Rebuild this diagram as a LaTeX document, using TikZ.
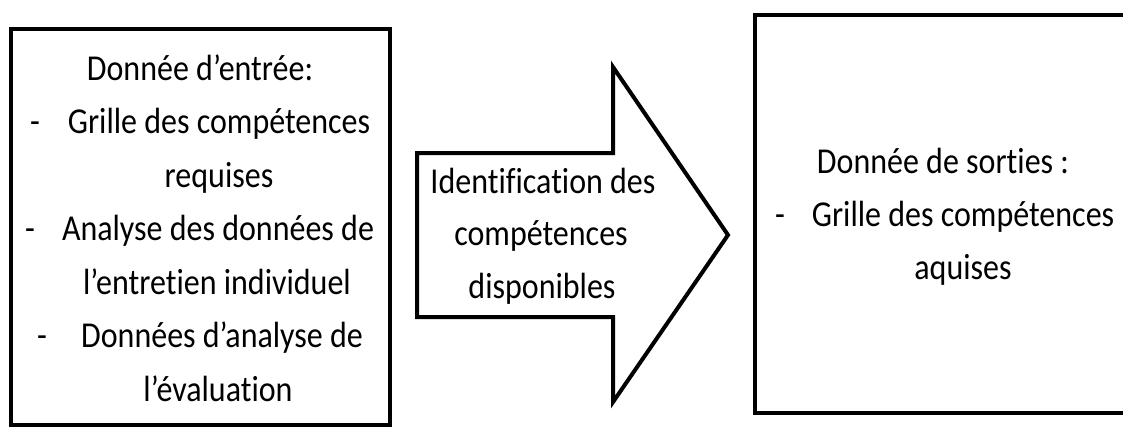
\documentclass[tikz,border=0pt]{standalone}
\usepackage{fontspec}
\setmainfont{Carlito}[Ligatures=CommonOff]
\newcommand{\tallt}[1]{\scalebox{1}[1.14]{#1}}
\begin{document}
\begin{tikzpicture}[x=0.75pt,y=-0.75pt,
  box/.style={draw, line width=3pt, inner sep=0pt, outer sep=0pt, anchor=north west},
  txt/.style={anchor=base, inner sep=0pt, font=\fontsize{24}{28}\selectfont},
  bigarrow/.style={draw, line width=3pt, line join=miter}]
\useasboundingbox (0,0) rectangle (1123,428);
\clip (0,0) rectangle (1123,428);
% left box
\node[box, minimum width=284.25pt, minimum height=297pt] (inbox) at (11,29) {};
\node[txt] (l1) at (200,80) {\tallt{Donnée d’entrée:}};
\node[txt] (d1) at (35,133) {\tallt{-}};
\node[txt] (l2) at (219,133) {\tallt{Grille des compétences}};
\node[txt] (l3) at (219,187) {\tallt{requises}};
\node[txt] (d2) at (30,240.5) {\tallt{-}};
\node[txt] (l4) at (218,240.5) {\tallt{Analyse des données de}};
\node[txt] (l5) at (217,294) {\tallt{l’entretien individuel}};
\node[txt] (d3) at (42,347.5) {\tallt{-}};
\node[txt] (l6) at (222,347.5) {\tallt{Données d’analyse de}};
\node[txt] (l7) at (218,401) {\tallt{l’évaluation}};
% block arrow
\draw[bigarrow] (417,153) -- (613,153) -- (613,67) -- (728,235) -- (613,402) -- (613,317) -- (417,317) -- cycle;
\node[txt] (a1) at (543,193) {\tallt{Identification des}};
\node[txt] (a2) at (541,245.5) {\tallt{compétences}};
\node[txt] (a3) at (542,298) {\tallt{disponibles}};
% right box
\node[box, minimum width=285pt, minimum height=298.5pt] (outbox) at (755,15) {};
\node[txt] (r1) at (943,173) {\tallt{Donnée de sorties :}};
\node[txt] (d4) at (780,226) {\tallt{-}};
\node[txt] (r2) at (963,226) {\tallt{Grille des compétences}};
\node[txt] (r3) at (963,279) {\tallt{aquises}};
\end{tikzpicture}
\end{document}
